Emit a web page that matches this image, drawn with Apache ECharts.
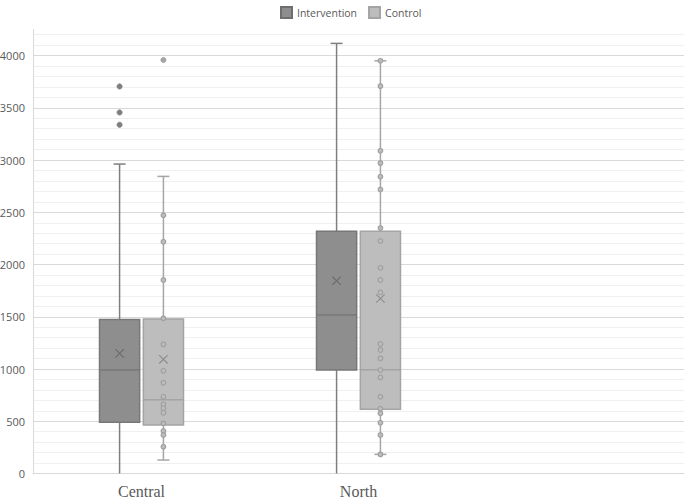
<!DOCTYPE html>
<html>
<head>
<meta charset="utf-8">
<style>
  html, body { margin: 0; padding: 0; background: #ffffff; }
  #chart { width: 685px; height: 499px; }
</style>
<script src="https://cdn.jsdelivr.net/npm/echarts@6/dist/echarts.min.js"></script>
</head>
<body>
<div id="chart"></div>
<script>
// ---- Data ----
const categories = ['Central', 'North'];
const seriesNames = ['Intervention', 'Control'];

// Intervention
const interventionLow = [0, 0];
const interventionQ1 = [490, 990];
const interventionMedian = [990, 1517];
const interventionQ3 = [1475, 2318];
const interventionHigh = [2962, 4117];
const interventionMean = [1150, 1845];
const interventionInner = [[], []];
const interventionOutliers = [[3705, 3456, 3338], []];

// Control
const controlLow = [129, 183];
const controlQ1 = [464, 614];
const controlMedian = [705, 993];
const controlQ3 = [1478, 2318];
const controlHigh = [2844, 3950];
const controlMean = [1093, 1675];
const controlInner = [
  [2471, 2218, 1852, 1485, 1236, 984, 869, 735, 662, 624, 582, 480, 407, 368, 257],
  [3950, 3708, 3089, 2971, 2840, 2719, 2349, 2225, 1970, 1852, 1734, 1239, 1182, 1102, 990, 920, 735, 620, 576, 486, 368, 183]
];
const controlOutliers = [[3958], []];

// Y axis
const yMin = 0;
const yMax = 4250;
const yMinorStep = 100;
const yMajorStep = 500;

// ---- Styles ----
const styles = {
  Intervention: {
    fill: '#8e8e8e', border: '#777777', whisker: '#7f7f7f', mean: '#6a6a6a',
    pointFill: '#8e8e8e', pointStroke: '#777777', outlierFill: '#7f7f7f', offset: -0.101
  },
  Control: {
    fill: '#bdbdbd', border: '#a4a4a4', whisker: '#a6a6a6', mean: '#8c8c8c',
    pointFill: '#bdbdbd', pointStroke: '#a0a0a0', outlierFill: '#a3a3a3', offset: 0.101
  }
};

function buildData(low, q1, med, q3, high, mean) {
  return categories.map((c, i) => [i, low[i], q1[i], med[i], q3[i], high[i], mean[i]]);
}

function makeRender(name, inner, outliers) {
  const st = styles[name];
  return function (params, api) {
    const cat = api.value(0);
    const idx = params.dataIndex;
    const band = api.size([1, 0])[0];
    const boxW = band * 0.185;
    const capW = 12;
    const cx = api.coord([cat, 0])[0] + st.offset * band;
    const y = v => api.coord([cat, v])[1];
    const low = api.value(1), q1 = api.value(2), med = api.value(3),
          q3 = api.value(4), high = api.value(5), mean = api.value(6);
    const children = [];
    const wStyle = { stroke: st.whisker, lineWidth: 1.5 };
    // whiskers
    children.push({ type: 'line', shape: { x1: cx, y1: y(q3), x2: cx, y2: y(high) }, style: wStyle });
    children.push({ type: 'line', shape: { x1: cx, y1: y(q1), x2: cx, y2: y(low) }, style: wStyle });
    children.push({ type: 'line', shape: { x1: cx - capW / 2, y1: y(high), x2: cx + capW / 2, y2: y(high) }, style: wStyle });
    if (low > 0) {
      children.push({ type: 'line', shape: { x1: cx - capW / 2, y1: y(low), x2: cx + capW / 2, y2: y(low) }, style: wStyle });
    }
    // box
    children.push({
      type: 'rect',
      shape: { x: cx - boxW / 2, y: y(q3), width: boxW, height: y(q1) - y(q3) },
      style: { fill: st.fill, stroke: st.border, lineWidth: 1.5 }
    });
    // median
    children.push({ type: 'line', shape: { x1: cx - boxW / 2, y1: y(med), x2: cx + boxW / 2, y2: y(med) }, style: { stroke: st.border, lineWidth: 1.5 } });
    // inner points
    (inner[idx] || []).forEach(v => {
      children.push({ type: 'circle', shape: { cx: cx, cy: y(v), r: 2.3 }, style: { fill: st.pointFill, stroke: st.pointStroke, lineWidth: 1.2 } });
    });
    // outliers
    (outliers[idx] || []).forEach(v => {
      children.push({ type: 'circle', shape: { cx: cx, cy: y(v), r: 2.6 }, style: { fill: st.outlierFill, stroke: st.outlierFill, lineWidth: 0.8 } });
    });
    // mean X
    const my = y(mean), h = 4.2;
    children.push({ type: 'line', shape: { x1: cx - h, y1: my - h, x2: cx + h, y2: my + h }, style: { stroke: st.mean, lineWidth: 1.1 } });
    children.push({ type: 'line', shape: { x1: cx - h, y1: my + h, x2: cx + h, y2: my - h }, style: { stroke: st.mean, lineWidth: 1.1 } });
    return { type: 'group', children: children };
  };
}

const splitColors = ['#d9d9d9', '#f0f0f0', '#f0f0f0', '#f0f0f0', '#f0f0f0'];

const chart = echarts.init(document.getElementById('chart'), null, { renderer: 'svg' });
chart.setOption({
  animation: false,
  backgroundColor: '#ffffff',
  legend: {
    top: 1,
    left: 275,
    icon: 'rect',
    itemWidth: 11,
    itemHeight: 11,
    itemGap: 11,
    textStyle: { fontFamily: 'Open Sans', fontSize: 10.5, color: '#595959' },
    data: seriesNames
  },
  grid: { left: 33, right: 1, top: 29.5, bottom: 25.5, containLabel: false, outerBoundsMode: 'none' },
  xAxis: {
    type: 'category',
    data: categories.concat(['']),
    boundaryGap: true,
    axisLine: { show: true, lineStyle: { color: '#d9d9d9', width: 1 } },
    axisTick: { show: false },
    splitLine: { show: false },
    axisLabel: { fontFamily: 'Liberation Serif', fontSize: 16, lineHeight: 15, color: '#595959', margin: 10 }
  },
  yAxis: {
    type: 'value',
    min: yMin,
    max: yMax,
    interval: yMinorStep,
    axisLine: { show: true, lineStyle: { color: '#d9d9d9', width: 1 } },
    axisTick: { show: false },
    axisLabel: {
      fontFamily: 'Open Sans', fontSize: 11, color: '#595959', margin: 8,
      showMaxLabel: false,
      formatter: v => (v % yMajorStep === 0 && v <= 4000) ? String(v) : ''
    },
    splitLine: { show: true, showMaxLine: false, lineStyle: { color: splitColors, width: 1 } }
  },
  series: [
    {
      name: 'Intervention',
      type: 'custom',
      itemStyle: { color: styles.Intervention.fill, borderColor: '#6f6f6f', borderWidth: 1 },
      encode: { x: 0, y: [1, 2, 3, 4, 5, 6] },
      renderItem: makeRender('Intervention', interventionInner, interventionOutliers),
      data: buildData(interventionLow, interventionQ1, interventionMedian, interventionQ3, interventionHigh, interventionMean),
      z: 3
    },
    {
      name: 'Control',
      type: 'custom',
      itemStyle: { color: styles.Control.fill, borderColor: '#a4a4a4', borderWidth: 1 },
      encode: { x: 0, y: [1, 2, 3, 4, 5, 6] },
      renderItem: makeRender('Control', controlInner, controlOutliers),
      data: buildData(controlLow, controlQ1, controlMedian, controlQ3, controlHigh, controlMean),
      z: 3
    }
  ]
});
</script>
</body>
</html>
